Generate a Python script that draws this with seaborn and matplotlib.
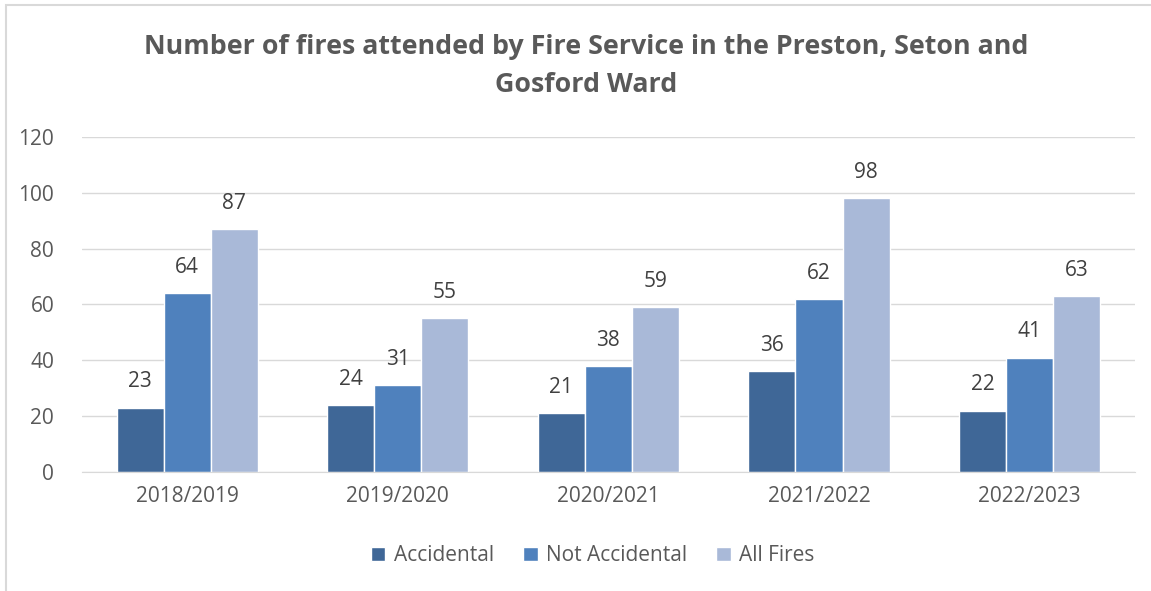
import matplotlib
matplotlib.use("Agg")
import matplotlib.pyplot as plt
import pandas as pd
import seaborn as sns
from matplotlib.patches import Rectangle

years = ["2018/2019", "2019/2020", "2020/2021", "2021/2022", "2022/2023"]
accidental = [23, 24, 21, 36, 22]
not_accidental = [64, 31, 38, 62, 41]
all_fires = [87, 55, 59, 98, 63]

series = ["Accidental", "Not Accidental", "All Fires"]
colors = ["#3F6797", "#4F81BD", "#A9B9D8"]

df = pd.DataFrame({
    "year": years * 3,
    "series": [s for s in series for _ in years],
    "value": accidental + not_accidental + all_fires,
})

sns.set_style("white")
plt.rcParams["font.family"] = ["Open Sans", "DejaVu Sans"]
text_grey = "#595959"

fig = plt.figure(figsize=(11.51, 5.91), dpi=100)
ax = fig.add_axes([0.0712, 0.2014, 0.9148, 0.5668])

sns.barplot(data=df, x="year", y="value", hue="series", palette=colors,
            width=0.67, saturation=1, ax=ax, legend=True)

for container in ax.containers:
    ax.bar_label(container, padding=11, fontsize=15, color="#404040")

ax.set_ylim(0, 120)
ax.set_yticks(range(0, 121, 20))
ax.set_xlim(-0.5, 4.5)
ax.grid(axis="y", color="#D9D9D9", linewidth=1)
ax.set_axisbelow(True)
for side in ["top", "right", "left"]:
    ax.spines[side].set_visible(False)
ax.spines["bottom"].set_color("#D9D9D9")
ax.tick_params(axis="both", length=0, labelsize=15, labelcolor=text_grey)
ax.tick_params(axis="x", pad=10)
ax.tick_params(axis="y", pad=20)
ax.set_xlabel("")
ax.set_ylabel("")

handles, labels = ax.get_legend_handles_labels()
ax.legend(handles, labels, loc="center", bbox_to_anchor=(0.485, -0.25), ncol=3,
          frameon=False, fontsize=15, labelcolor=text_grey, handlelength=0.7,
          handleheight=0.7, columnspacing=1.4, handletextpad=0.4)

fig.text(0.509, 0.888, "Number of fires attended by Fire Service in the Preston, Seton and\nGosford Ward",
         ha="center", va="center", fontsize=19.3, fontweight="bold", color=text_grey,
         linespacing=1.6)

fig.patches.append(Rectangle((0.005, -0.05), 1.2, 1.041, transform=fig.transFigure,
                             fill=False, edgecolor="#D9D9D9", linewidth=1.5))

fig.savefig("out.png", dpi=100)
